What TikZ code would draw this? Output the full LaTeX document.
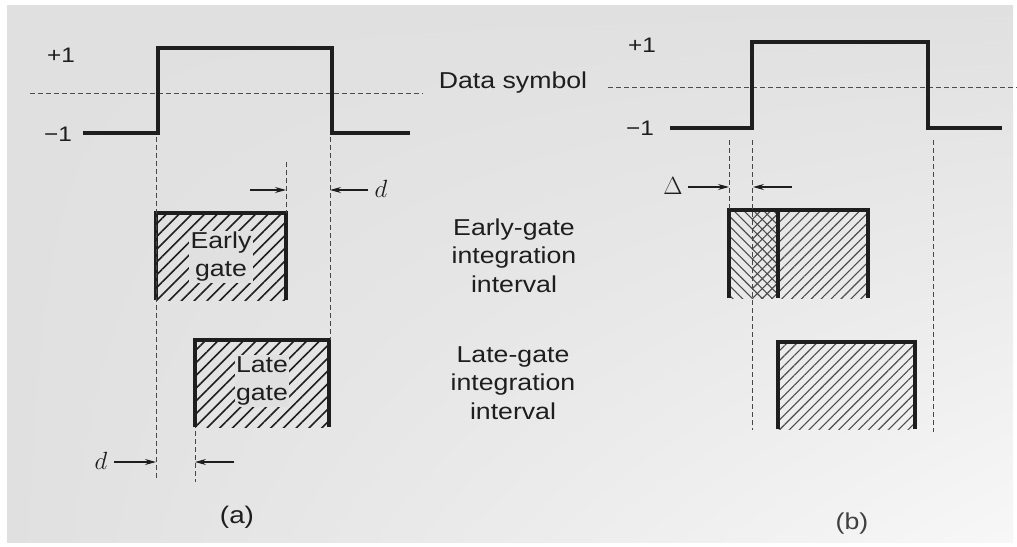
\documentclass[tikz,border=0pt]{standalone}
\usepackage{fontspec}
\setmainfont{Liberation Sans}[FakeStretch=1.16]
\usetikzlibrary{arrows.meta,patterns.meta,shadings}
\definecolor{bg}{RGB}{224,224,224}
\definecolor{ink}{RGB}{30,30,30}
\begin{document}
\begin{tikzpicture}[x=1pt,y=-1pt,
  pulse/.style={line width=3.4pt, draw=ink, line join=miter},
  gate/.style={line width=3.6pt, draw=ink},
  guide/.style={line width=0.9pt, draw=gray!55!black, dash pattern=on 5pt off 3pt},
  dline/.style={line width=0.9pt, draw=gray!60!black, dash pattern=on 5pt off 3pt},
  dim/.style={line width=1.1pt, draw=ink, -{Stealth[length=11pt,width=6pt]}},
  txt/.style={text=ink, font=\fontsize{23}{28}\selectfont, inner sep=0pt, anchor=base},
  lvl/.style={text=ink, font=\fontsize{21}{24}\selectfont, inner sep=0pt},
  glbl/.style={text=ink, fill=bg, font=\fontsize{23}{28}\selectfont, align=center, inner sep=1.5pt},
  mlbl/.style={text=ink, font=\fontsize{27}{30}\selectfont, inner sep=0pt},
  hatchA/.style={pattern={Lines[angle=45,distance=9pt,line width=1.6pt]}, pattern color=ink},
  hatchNE/.style={pattern={Lines[angle=45,distance=7pt,line width=1.1pt]}, pattern color=ink!80},
  hatchNW/.style={pattern={Lines[angle=-45,distance=7pt,line width=1.1pt]}, pattern color=ink!80},
]
\useasboundingbox (0,0) rectangle (1017,546);
\fill[white] (0,0) rectangle (1017,546);
\shade[upper left=bg, upper right=bg, lower left=bg, lower right=bg!25!white] (7,5) rectangle (1013,542);

% ---------- data symbol reference line ----------
\node[txt] (ds) at (513,88) {Data symbol};
\coordinate (dlA) at (30,93);   \coordinate (dlAe) at (423,93);
\coordinate (dlB) at (608,87);  \coordinate (dlBe) at (1017,87);
\draw[dline] (dlA) -- (dlAe);
\draw[dline] (dlB) -- (dlBe);

% ---------- centre texts ----------
\node[txt] (eg1) at (514,235) {Early-gate};
\node[txt] (eg2) at (514,263.5) {integration};
\node[txt] (eg3) at (514,292) {interval};
\node[txt] (lg1) at (513,362) {Late-gate};
\node[txt] (lg2) at (513,390.5) {integration};
\node[txt] (lg3) at (513,419) {interval};

% ================= panel (a) =================
\node[lvl] (ap1) at (61,55) {+1};
\node[lvl] (am1) at (58,134) {−1};
\draw[pulse] (83,133) -- (158,133) -- (158,48) -- (332,48) -- (332,133) -- (410,133);

% early gate (a)
\fill[hatchA] (156,213) rectangle (286,300);
\node[glbl] (egl) at (221,257) {Early\\gate};
\draw[gate] (156,300) -- (156,213) -- (286,213) -- (286,300);

% late gate (a)
\fill[hatchA] (195,340) rectangle (329,427);
\node[glbl] (lgl) at (262,381) {Late\\gate};
\draw[gate] (195,427) -- (195,340) -- (329,340) -- (329,427);

% guides (a)
\draw[guide] (156,137) -- (156,480);
\draw[guide] (330,137) -- (330,340);
\draw[guide] (286,162) -- (286,213);
\draw[guide] (195,431) -- (195,482);

% dimension arrows (a)
\coordinate (a1s) at (250,190); \coordinate (a1e) at (286,190);
\coordinate (a2s) at (368,190); \coordinate (a2e) at (330,190);
\draw[dim] (a1s) -- (a1e);
\draw[dim] (a2s) -- (a2e);
\node[mlbl] (d1) at (381,189) {$d$};
\node[mlbl] (d2) at (101,461) {$d$};
\coordinate (a3s) at (114,462); \coordinate (a3e) at (156,462);
\coordinate (a4s) at (234,462); \coordinate (a4e) at (195,462);
\draw[dim] (a3s) -- (a3e);
\draw[dim] (a4s) -- (a4e);
\node[text=ink, font=\fontsize{24}{28}\selectfont, inner sep=0pt] (la) at (237,517) {(a)};

% ================= panel (b) =================
\node[lvl] (bp1) at (642,45) {+1};
\node[lvl] (bm1) at (640,128) {−1};
\draw[pulse] (670,128) -- (752,128) -- (752,42) -- (928,42) -- (928,128) -- (1002,128);

% early gate (b)
\fill[hatchNW] (729,210) rectangle (778,298);
\fill[hatchNE] (752,210) rectangle (868,298);
\draw[gate] (729,298) -- (729,210) -- (868,210) -- (868,298);
\draw[gate] (778,210) -- (778,298);

% late gate (b)
\fill[hatchNE] (778,342) rectangle (915,429);
\draw[gate] (778,429) -- (778,342) -- (915,342) -- (915,429);

% guides (b)
\draw[guide] (729,140) -- (729,210);
\draw[guide] (752,140) -- (752,430);
\draw[guide] (933,140) -- (933,432);

% Delta arrows
\node[text=ink, font=\fontsize{23}{26}\selectfont, inner sep=0pt] (dl) at (673,186) {$\Delta$};
\coordinate (b1s) at (688,187); \coordinate (b1e) at (729,187);
\coordinate (b2s) at (792,187); \coordinate (b2e) at (753,187);
\draw[dim] (b1s) -- (b1e);
\draw[dim] (b2s) -- (b2e);
\node[text=ink!85, font=\fontsize{23}{28}\selectfont, inner sep=0pt] (lb) at (852,524) {(b)};
\end{tikzpicture}
\end{document}
